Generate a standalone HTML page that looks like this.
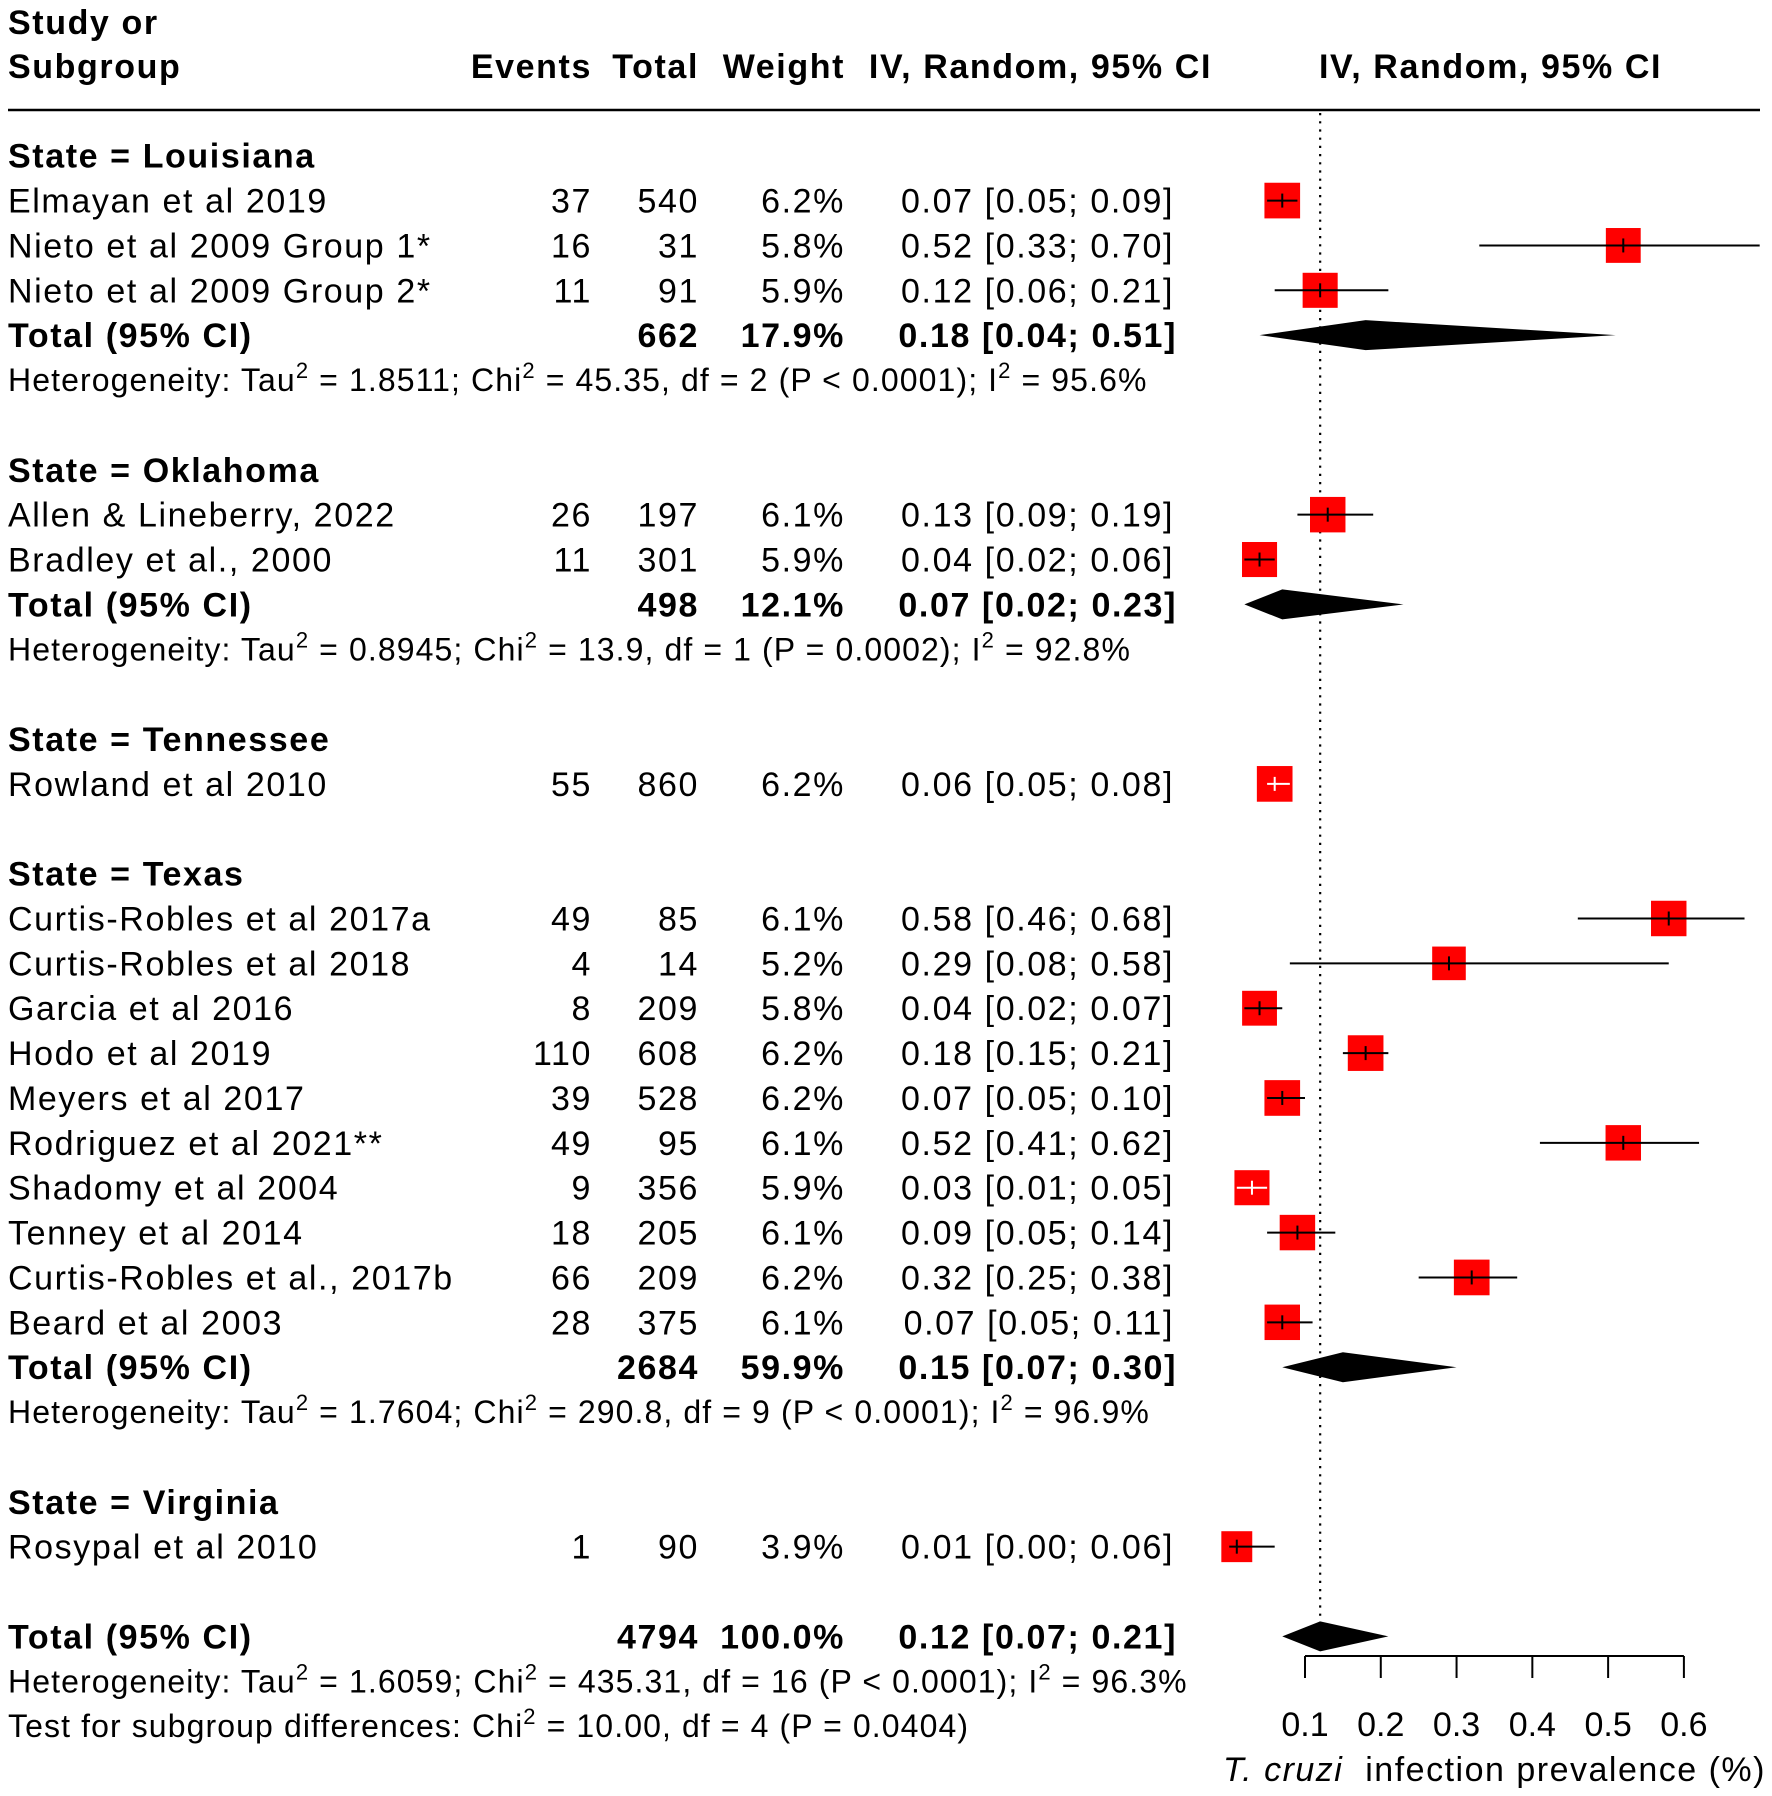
<!DOCTYPE html>
<html><head><meta charset="utf-8"><style>
html,body{margin:0;padding:0;background:#fff;}
svg{display:block;font-family:"Liberation Sans",Arial,sans-serif;}
#txt text{letter-spacing:1.6px;}
#txt text.het{letter-spacing:1.1px;}
</style></head><body>
<svg id="chart" width="1772" height="1796" viewBox="0 0 1772 1796" xmlns="http://www.w3.org/2000/svg">
<g id="txt"></g><g id="plot"></g>
</svg>
<script>
// ---- data ----
const studyNames = ["Elmayan et al 2019","Nieto et al 2009 Group 1*","Nieto et al 2009 Group 2*","Allen & Lineberry, 2022","Bradley et al., 2000","Rowland et al 2010","Curtis-Robles et al 2017a","Curtis-Robles et al 2018","Garcia et al 2016","Hodo et al 2019","Meyers et al 2017","Rodriguez et al 2021**","Shadomy et al 2004","Tenney et al 2014","Curtis-Robles et al., 2017b","Beard et al 2003","Rosypal et al 2010"];
const studyRows = [1,2,3,8,9,14,17,18,19,20,21,22,23,24,25,26,31];
const events = [37,16,11,26,11,55,49,4,8,110,39,49,9,18,66,28,1];
const totals = [540,31,91,197,301,860,85,14,209,608,528,95,356,205,209,375,90];
const weights = [6.2,5.8,5.9,6.1,5.9,6.2,6.1,5.2,5.8,6.2,6.2,6.1,5.9,6.1,6.2,6.1,3.9];
const est = [0.07,0.52,0.12,0.13,0.04,0.06,0.58,0.29,0.04,0.18,0.07,0.52,0.03,0.09,0.32,0.07,0.01];
const lo = [0.05,0.33,0.06,0.09,0.02,0.05,0.46,0.08,0.02,0.15,0.05,0.41,0.01,0.05,0.25,0.05,0.00];
const hi = [0.09,0.70,0.21,0.19,0.06,0.08,0.68,0.58,0.07,0.21,0.10,0.62,0.05,0.14,0.38,0.11,0.06];
const whiteCross = ["Rowland et al 2010","Shadomy et al 2004"];

const groupNames = ["State = Louisiana","State = Oklahoma","State = Tennessee","State = Texas","State = Virginia"];
const groupRows = [0,7,13,16,30];
const sumRows = [4,10,27,33];
const sumTotals = [662,498,2684,4794];
const sumWeights = ["17.9%","12.1%","59.9%","100.0%"];
const sumEst = [0.18,0.07,0.15,0.12];
const sumLo = [0.04,0.02,0.07,0.07];
const sumHi = [0.51,0.23,0.30,0.21];
const hetRows = [5,11,28,34];
const hetTau = ["1.8511","0.8945","1.7604","1.6059"];
const hetChi = ["45.35","13.9","290.8","435.31"];
const hetDf = ["2","1","9","16"];
const hetP = ["P < 0.0001","P = 0.0002","P < 0.0001","P < 0.0001"];
const hetI = ["95.6%","92.8%","96.9%","96.3%"];
const ticks = [0.1,0.2,0.3,0.4,0.5,0.6];
const overall = 0.12;

// ---- scales ----
const xs = v => 1305 + (v - 0.1) * 757.8;
const ys = k => 155.7 + 44.87 * k;
const NS = "http://www.w3.org/2000/svg";
const T = document.getElementById('txt'), P = document.getElementById('plot');
function el(tag, attrs, parent){const e=document.createElementNS(NS,tag);for(const k in attrs)e.setAttribute(k,attrs[k]);parent.appendChild(e);return e;}
function txt(x,y,s,anchor,bold,parent,size){const t=el('text',{x:x,y:y,'font-size':size||34,'text-anchor':anchor||'start','font-weight':bold?'bold':'normal',fill:'#000'},parent||T);t.textContent=s;return t;}
const fmt = v => v.toFixed(2);

// header
let t;
t=txt(8,34,"Study or","start",true);  
t=txt(8,78,"Subgroup","start",true);  
t=txt(592,78,"Events","end",true);  
t=txt(699,78,"Total","end",true);  
t=txt(845,78,"Weight","end",true);  
t=txt(1212,78,"IV, Random, 95% CI","end",true);  
t=txt(1319,78,"IV, Random, 95% CI","start",true);  
let ln=el('line',{x1:8,y1:110,x2:1760,y2:110,stroke:'#000','stroke-width':2.5},T);
 

// reference line
ln=el('line',{x1:xs(overall),y1:113,x2:xs(overall),y2:1632,stroke:'#000','stroke-width':2.2,'stroke-dasharray':'2.2 6'},P);
 

groupNames.forEach((g,i)=>{const t=txt(8,ys(groupRows[i])+12,g,"start",true);
 });

studyNames.forEach((n,i)=>{
  const y=ys(studyRows[i]), b=y+12;
  let t=txt(8,b,n);  
  t=txt(592,b,String(events[i]),"end");  
  t=txt(699,b,String(totals[i]),"end");  
  t=txt(845,b,weights[i].toFixed(1)+"%","end");  
  t=txt(1174,b,fmt(est[i])+" ["+fmt(lo[i])+"; "+fmt(hi[i])+"]","end");  
  const side=1.1447*(20+1.8*weights[i]);
  const r=el('rect',{x:xs(est[i])-side/2,y:y-side/2,width:side,height:side,fill:'#ff0000'},P);
   
  const col = whiteCross.includes(n)?'#fff':'#000';
  const l=el('line',{x1:xs(lo[i]),y1:y,x2:xs(hi[i]),y2:y,stroke:col,'stroke-width':2},P);
   
  const m=el('line',{x1:xs(est[i]),y1:y-7,x2:xs(est[i]),y2:y+7,stroke:col,'stroke-width':2},P);
   
});

sumRows.forEach((k,i)=>{
  const y=ys(k), b=y+12;
  let t=txt(8,b,"Total (95% CI)","start",true);  
  t=txt(699,b,String(sumTotals[i]),"end",true);  
  t=txt(845,b,sumWeights[i],"end",true);  
  t=txt(1177,b,fmt(sumEst[i])+" ["+fmt(sumLo[i])+"; "+fmt(sumHi[i])+"]","end",true);  
  const h=15;
  const d=el('polygon',{points:`${xs(sumLo[i])},${y} ${xs(sumEst[i])},${y-h} ${xs(sumHi[i])},${y} ${xs(sumEst[i])},${y+h}`,fill:'#000'},P);
   
});

hetRows.forEach((k,i)=>{
  const b=ys(k)+11;
  const t=el('text',{x:8,y:b,'font-size':32,fill:'#000','class':'het'},T);
   
  const parts=[["Heterogeneity: Tau",0],["2",1],[" = "+hetTau[i]+"; Chi",0],["2",1],[" = "+hetChi[i]+", df = "+hetDf[i]+" ("+hetP[i]+"); I",0],["2",1],[" = "+hetI[i],0]];
  parts.forEach(p=>{const s=el('tspan',p[1]?{'font-size':22,dy:-13}:{dy:0},t);s.textContent=p[0];
    if(p[1]){s.setAttribute('data-up','1');}});
  const sp=t.querySelectorAll('tspan');
  for(let j=1;j<sp.length;j++){ if(!sp[j].getAttribute('data-up') && sp[j-1].getAttribute('data-up')) sp[j].setAttribute('dy',13);}
});
t=txt(8,ys(35)+11,"Test for subgroup differences: Chi","start",false,T,32);
t.setAttribute('class','het');
 
let s2=el('tspan',{'font-size':22,dy:-13},t); s2.textContent="2";
s2=el('tspan',{dy:13},t); s2.textContent=" = 10.00, df = 4 (P = 0.0404)";

// axis
const ay=1656;
ln=el('line',{x1:xs(ticks[0]),y1:ay,x2:xs(ticks[ticks.length-1]),y2:ay,stroke:'#000','stroke-width':2},P);
 
ticks.forEach(v=>{
  const l=el('line',{x1:xs(v),y1:ay,x2:xs(v),y2:ay+22,stroke:'#000','stroke-width':2},P);
   
  const t=txt(xs(v),1736,String(v),"middle",false,P,34);
   
});
t=el('text',{x:1766,y:1781,'font-size':34,'text-anchor':'end',fill:'#000','letter-spacing':'1.5px','xml:space':'preserve'},P);
 
let it=el('tspan',{'font-style':'italic'},t); it.textContent="T. cruzi";
it=el('tspan',{},t); it.textContent="\u00a0\u00a0infection prevalence (%)";
</script>
</body></html>
